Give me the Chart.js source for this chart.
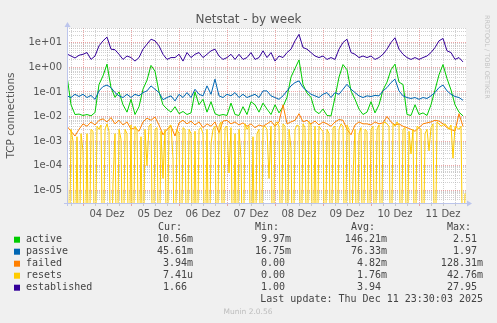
<!DOCTYPE html>
<html>
<head>
<meta charset="utf-8">
<script src="https://cdn.jsdelivr.net/npm/chart.js@4.4.0/dist/chart.umd.min.js"></script>
<style>
  html, body { margin: 0; padding: 0; background: #f0f0f0; }
  canvas { display: block; }
</style>
</head>
<body>
<canvas id="netstatChart" width="497" height="323"></canvas>
<script>
// hours counted from 03 Dez 00:00; most series every 2h, resets every 1h
const startHour = 16;
const stepHours = 2;
const resetsStepHours = 1;
const endHour = 215.5;
const firstDay = 3;
const monthName = 'Dez';

const active = [
  0.45, 0.03, 0.012, 0.0125, 0.011, 0.012, 0.0106, 0.0145, 0.2, 0.45,
  1.35, 0.15, 0.06, 0.1, 0.03, 0.015, 0.05, 0.012, 0.025, 0.13,
  0.3, 1.2, 0.7, 0.1, 0.03, 0.02, 0.015, 0.025, 0.013, 0.016,
  0.012, 0.014, 0.1, 0.03, 0.05, 0.015, 0.04, 0.013, 0.011, 0.012,
  0.011, 0.035, 0.012, 0.011, 0.025, 0.012, 0.04, 0.03, 0.015, 0.035,
  0.02, 0.012, 0.03, 0.014, 0.025, 0.06, 0.4, 0.9, 2.0, 0.2,
  0.09, 0.06, 0.017, 0.013, 0.02, 0.011, 0.0105, 0.06, 0.4, 1.3,
  0.8, 0.11, 0.05, 0.02, 0.012, 0.015, 0.04, 0.014, 0.03, 0.12,
  0.25, 0.8, 1.35, 0.25, 0.2, 0.012, 0.011, 0.03, 0.012, 0.014,
  0.011, 0.03, 0.12, 0.5, 1.3, 0.35, 0.12, 0.03, 0.015, 0.01056
];
const passive = [
  0.069, 0.059, 0.08, 0.065, 0.08, 0.059, 0.072, 0.05, 0.11, 0.165,
  0.19, 0.15, 0.094, 0.069, 0.059, 0.08, 0.059, 0.08, 0.069, 0.094,
  0.11, 0.176, 0.128, 0.094, 0.048, 0.059, 0.069, 0.043, 0.08, 0.059,
  0.094, 0.059, 0.128, 0.08, 0.069, 0.176, 0.08, 0.33, 0.069, 0.059,
  0.08, 0.069, 0.094, 0.059, 0.08, 0.059, 0.069, 0.08, 0.059, 0.11,
  0.11, 0.069, 0.059, 0.05, 0.069, 0.11, 0.176, 0.24, 0.28, 0.15,
  0.11, 0.08, 0.069, 0.059, 0.08, 0.094, 0.059, 0.094, 0.08, 0.128,
  0.205, 0.128, 0.094, 0.069, 0.059, 0.069, 0.065, 0.072, 0.069, 0.11,
  0.15, 0.24, 0.33, 0.11, 0.069, 0.059, 0.054, 0.059, 0.05, 0.059,
  0.054, 0.069, 0.094, 0.15, 0.19, 0.11, 0.08, 0.065, 0.059, 0.0456
];
const failed = [
  0.004, 0.0025, 0.0016, 0.003, 0.005, 0.004, 0.006, 0.0045, 0.007, 0.008,
  0.006, 0.009, 0.005, 0.007, 0.0045, 0.006, 0.003, 0.0035, 0.0025, 0.006,
  0.0085, 0.007, 0.0095, 0.0045, 0.0018, 0.003, 0.004, 0.0016, 0.0055, 0.007,
  0.005, 0.0065, 0.0045, 0.006, 0.0035, 0.005, 0.004, 0.006, 0.0022, 0.0065,
  0.007, 0.005, 0.006, 0.0045, 0.0055, 0.004, 0.005, 0.0035, 0.0045, 0.004,
  0.005, 0.0065, 0.004, 0.006, 0.03, 0.005, 0.006, 0.007, 0.013, 0.006,
  0.007, 0.005, 0.0065, 0.0045, 0.006, 0.005, 0.004, 0.006, 0.0075, 0.007,
  0.003, 0.0018, 0.0045, 0.006, 0.005, 0.005, 0.0045, 0.006, 0.005, 0.0055,
  0.01, 0.006, 0.0045, 0.005, 0.004, 0.0035, 0.003, 0.0025, 0.0035, 0.005,
  0.0055, 0.006, 0.007, 0.0065, 0.005, 0.0035, 0.003, 0.0025, 0.013, 0.00394
];
const resets = [
  0.002, 0, 0.003, 0.001, 0, 0.0015, 0, 0.002,
  0.0004, 0, 0.002, 0, 0.003, 0.0025, 0, 0.004, 0.003, 0.0045, 0, 0.003,
  0.005, 0.0025, 0, 0.00002, 0.002, 0, 0.003, 0.0012, 0, 0.003, 0.002, 0,
  0.0045, 0, 0.004, 0.003, 0, 0.0015, 0, 0.003, 0.0001, 0.004, 0.005, 0,
  0.003, 0.0035, 0, 0.0025, 0.00003, 0.003, 0, 0.004, 0.0045, 0.0002, 0, 0.003,
  0.002, 0, 0.0035, 0.003, 0, 0.003, 0.002, 0, 0.0025, 0, 0.003, 0.0035,
  0.002, 0, 0.003, 0, 0.0008, 0.003, 0.004, 0, 0.004, 0.006, 0, 0.0035,
  0.004, 0.00005, 0.0035, 0, 0.002, 0, 0.003, 0.0002, 0, 0.005, 0.003, 0.004,
  0, 0.0015, 0, 0.002, 0.003, 0, 0.0035, 0.004, 0.003, 0.00003, 0.004, 0,
  0.005, 0.006, 0.004, 0, 0.005, 0.004, 0, 0.003, 0.0005, 0, 0.003, 0.0045,
  0.004, 0, 0.005, 0.0035, 0, 0.006, 0.0045, 0, 0.004, 0, 0.004, 0.003,
  0.0025, 0, 0.003, 0.002, 0, 0.0035, 0.004, 0, 0.003, 0.005, 0.004, 0,
  0.0045, 0.003, 0, 0.00004, 0.003, 0, 0.002, 0.0035, 0, 0.003, 0.0025, 0,
  0.003, 0.004, 0, 0.003, 0.0045, 0, 0.005, 0.006, 0.005, 0.004, 0, 0.005,
  0.004, 0.006, 0.0045, 0, 0.003, 0.0035, 0, 0.0025, 0.0003, 0.003, 0, 0.004,
  0.0035, 0.003, 0, 0.002, 0.003, 0.0004, 0.0035, 0.005, 0, 0.006, 0.005, 0.004,
  0.0045, 0.005, 0.004, 0.003, 0.0045, 0.0002, 0.004, 0.0035, 0.003, 0.004, 0, 0.0000074
];
const established = [
  3.5, 2.9, 2.4, 3.1, 3.4, 4.0, 2.1, 2.9, 7.5, 12,
  17, 5.5, 5.2, 3.4, 2.1, 2.9, 2.5, 1.8, 2.5, 5.5,
  8.8, 14, 12, 7.5, 3.4, 2.1, 2.5, 2.5, 3.4, 1.8,
  4.0, 2.5, 3.4, 4.0, 2.5, 3.4, 4.7, 5.5, 2.9, 2.1,
  2.5, 3.4, 2.1, 3.4, 2.1, 2.5, 4.0, 2.1, 2.5, 4.7,
  2.5, 4.0, 1.8, 2.9, 2.5, 4.0, 5.5, 12, 22, 6.4,
  5.5, 4.0, 2.9, 2.5, 2.9, 2.1, 2.5, 2.1, 5.5, 10.3,
  14, 4.0, 3.4, 2.5, 2.9, 2.5, 2.9, 2.1, 2.5, 3.4,
  5.5, 10.3, 16, 5.5, 3.4, 2.5, 2.1, 2.5, 2.1, 2.5,
  2.9, 4.0, 6.4, 12, 15, 4.7, 4.0, 2.1, 2.5, 1.66
];

const seriesNames = ['active', 'passive', 'failed', 'resets', 'established'];
const seriesColors = ['#00cc00', '#0066b3', '#ff8000', '#ffcc00', '#330099'];
const curValues = ['10.56m', '45.61m', '3.94m', '7.41u', '1.66'];
const minValues = ['9.97m', '16.75m', '0.00', '0.00', '1.00'];
const avgValues = ['146.21m', '76.33m', '4.82m', '1.76m', '3.94'];
const maxValues = ['2.51', '1.97', '128.31m', '42.76m', '27.95'];

const titleText = 'Netstat - by week';
const yAxisTitle = 'TCP connections';
const lastUpdate = 'Last update: Thu Dec 11 23:30:03 2025';
const versionText = 'Munin 2.0.56';
const sideText = 'RRDTOOL / TOBI OETIKER';

const yMin = 3e-6;
const yMax = 40;

// zero can't be shown on a log axis, push it far below the bottom edge
function toPoints(values, step) {
  return values.map((v, i) => ({ x: startHour + i * step, y: v > 0 ? v : 1e-9 }));
}

const allSeries = [active, passive, failed, resets, established];
const allSteps = [stepHours, stepHours, stepHours, resetsStepHours, stepHours];
const datasets = allSeries.map((values, k) => ({
  label: seriesNames[k],
  data: toPoints(values, allSteps[k]),
  borderColor: seriesColors[k],
  borderWidth: 1,
  pointRadius: 0,
  tension: 0,
  fill: false,
  order: allSeries.length - k
}));

const gridGray = 'rgba(170,170,170,0.55)';
const gridRed = 'rgba(225,110,110,0.6)';
const axisColor = '#bcc5ec';

function isDecade(v) {
  const l = Math.log10(v);
  return Math.abs(l - Math.round(l)) < 1e-6;
}
function expLabel(v) {
  const e = Math.round(Math.log10(v));
  return '1e' + (e < 0 ? '-' : '+') + String(Math.abs(e)).padStart(2, '0');
}

const munin = {
  id: 'munin',
  beforeDraw(chart) {
    const { ctx, chartArea: a } = chart;
    ctx.save();
    ctx.fillStyle = '#f0f0f0';
    ctx.fillRect(0, 0, chart.width, chart.height);
    ctx.fillStyle = '#ffffff';
    ctx.fillRect(a.left, a.top, a.right - a.left, a.bottom - a.top);
    ctx.restore();
  },
  afterDraw(chart) {
    const { ctx, chartArea: a } = chart;
    ctx.save();

    // axes with arrow heads
    ctx.strokeStyle = axisColor;
    ctx.fillStyle = axisColor;
    ctx.lineWidth = 1;
    ctx.beginPath();
    ctx.moveTo(a.left + 0.5, a.bottom + 3);
    ctx.lineTo(a.left + 0.5, a.top - 2);
    ctx.moveTo(a.left - 3, a.bottom + 0.5);
    ctx.lineTo(a.right + 2, a.bottom + 0.5);
    ctx.stroke();
    ctx.beginPath();
    ctx.moveTo(a.left - 2.5, a.top - 1);
    ctx.lineTo(a.left + 3.5, a.top - 1);
    ctx.lineTo(a.left + 0.5, a.top - 6);
    ctx.closePath();
    ctx.fill();
    ctx.beginPath();
    ctx.moveTo(a.right + 1, a.bottom - 2.5);
    ctx.lineTo(a.right + 1, a.bottom + 3.5);
    ctx.lineTo(a.right + 6, a.bottom + 0.5);
    ctx.closePath();
    ctx.fill();

    // title
    ctx.fillStyle = '#555';
    ctx.font = '12px "DejaVu Sans"';
    ctx.textAlign = 'center';
    ctx.textBaseline = 'middle';
    ctx.fillText(titleText, 248.5, 20);

    // y axis title
    ctx.save();
    ctx.translate(11, (a.top + a.bottom) / 2);
    ctx.rotate(-Math.PI / 2);
    ctx.font = '10.5px "DejaVu Sans"';
    ctx.fillText(yAxisTitle, 0, 0);
    ctx.restore();

    // rrdtool watermark on the right
    ctx.save();
    ctx.translate(487, 15);
    ctx.rotate(Math.PI / 2);
    ctx.fillStyle = '#c4c4c4';
    ctx.font = '6.5px "DejaVu Sans"';
    ctx.textAlign = 'left';
    ctx.fillText(sideText, 0, 0);
    ctx.restore();

    // legend table
    ctx.font = '10px "DejaVu Sans Mono"';
    ctx.fillStyle = '#444';
    ctx.textAlign = 'left';
    const headY = 227.5;
    ctx.fillText('Cur:', 158, headY);
    ctx.fillText('Min:', 255, headY);
    ctx.fillText('Avg:', 351, headY);
    ctx.fillText('Max:', 447, headY);
    const colEnds = [193, 291, 387, 483];
    const cols = [curValues, minValues, avgValues, maxValues];
    seriesNames.forEach((name, k) => {
      const y = 239.7 + k * 12;
      ctx.fillStyle = seriesColors[k];
      ctx.fillRect(14, y - 3, 6, 6);
      ctx.fillStyle = '#444';
      ctx.textAlign = 'left';
      ctx.fillText(name, 26, y);
      ctx.textAlign = 'right';
      cols.forEach((col, c) => {
        const s = col[k];
        const txt = /[a-z]$/i.test(s) ? s : s + ' ';
        ctx.fillText(txt, colEnds[c], y);
      });
    });
    ctx.textAlign = 'right';
    ctx.fillText(lastUpdate, 483, 299.7);

    ctx.textAlign = 'center';
    ctx.fillStyle = '#bdbdbd';
    ctx.font = '7.5px "DejaVu Sans"';
    ctx.fillText(versionText, 248, 312);
    ctx.restore();
  }
};

new Chart(document.getElementById('netstatChart').getContext('2d'), {
  type: 'line',
  data: { datasets: datasets },
  plugins: [munin],
  options: {
    responsive: false,
    animation: false,
    layout: { padding: { left: 0, top: 28, right: 31, bottom: 0 } },
    plugins: { legend: { display: false }, tooltip: { enabled: false } },
    scales: {
      x: {
        type: 'linear',
        min: startHour,
        max: endHour,
        afterFit: s => { s.height = 120; },
        afterBuildTicks: s => {
          const t = [];
          for (let h = 18; h <= s.max; h += 6) t.push({ value: h });
          s.ticks = t;
        },
        ticks: {
          autoSkip: false,
          maxRotation: 0,
          padding: 2,
          color: '#555',
          font: { family: 'DejaVu Sans', size: 10 },
          callback: v => {
            if (v % 24 !== 12) return '';
            const d = firstDay + Math.floor(v / 24);
            return String(d).padStart(2, '0') + ' ' + monthName;
          }
        },
        grid: {
          color: c => (c.tick && c.tick.value % 24 === 0) ? gridRed : gridGray,
          tickColor: c => (c.tick && c.tick.value % 24 === 0) ? gridRed : gridGray,
          tickLength: 3,
          lineWidth: 1
        },
        border: { display: false, dash: [1, 1] }
      },
      y: {
        type: 'logarithmic',
        min: yMin,
        max: yMax,
        afterFit: s => { s.width = 67; },
        afterBuildTicks: s => {
          const t = [];
          for (let e = -6; e <= 1; e++) {
            for (let m = 1; m <= 9; m++) {
              const v = m * Math.pow(10, e);
              if (v >= s.min * 0.999 && v <= s.max * 1.001) t.push({ value: v });
            }
          }
          s.ticks = t;
        },
        ticks: {
          autoSkip: false,
          padding: 5,
          color: '#555',
          font: { family: 'DejaVu Sans', size: 10 },
          callback: v => isDecade(v) ? expLabel(v) : ''
        },
        grid: {
          color: c => (c.tick && isDecade(c.tick.value)) ? gridRed : gridGray,
          drawTicks: false,
          lineWidth: 1
        },
        border: { display: false, dash: [1, 1] }
      }
    }
  }
});
</script>
</body>
</html>
